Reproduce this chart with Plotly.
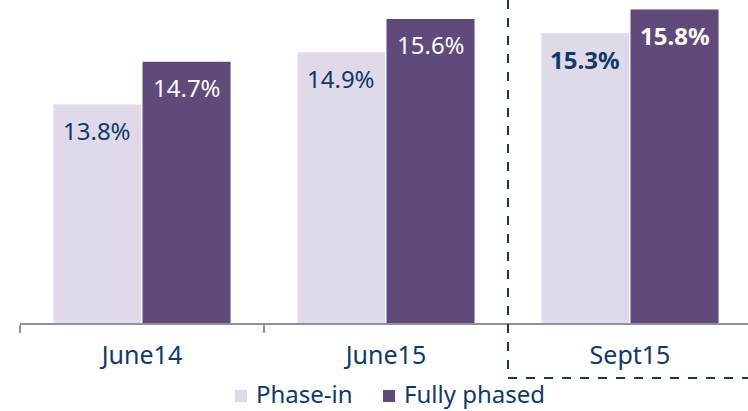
import plotly.graph_objects as go

categories = ["June14", "June15", "Sept15"]
phase_in = [13.8, 14.9, 15.3]
fully_phased = [14.7, 15.6, 15.8]
series_names = ["Phase-in", "Fully phased"]
bold_flags = [False, False, True]

LIGHT = "#dfd9ea"
PURPLE = "#5f4a7b"
NAVY = "#0f3a68"
FONT = "Noto Sans"

fig = go.Figure()
fig.add_trace(go.Bar(name=series_names[0], x=categories, y=phase_in,
                     marker=dict(color=LIGHT, line=dict(color="white", width=1))))
fig.add_trace(go.Bar(name=series_names[1], x=categories, y=fully_phased,
                     marker=dict(color=PURPLE, line=dict(color="white", width=1))))

bargap = 0.27
half = (1 - bargap) / 4  # offset of each bar center from category center
for i, cat in enumerate(categories):
    for val, dx, col in ((phase_in[i], -half, NAVY), (fully_phased[i], half, "white")):
        txt = f"{val:.1f}%"
        if bold_flags[i]:
            txt = f"<b>{txt}</b>"
        fig.add_annotation(x=i + dx, y=val, xref="x", yref="y", text=txt,
                           showarrow=False, yanchor="top", yshift=-8,
                           font=dict(family=FONT, size=24, color=col))

# dashed box around the last category
fig.add_shape(type="path", xref="x", yref="paper",
              path="M 1.5,1 L 1.5,-0.17 L 2.6,-0.17",
              line=dict(color="#16365c", width=2, dash="dash"))

# legend (drawn manually so it sits exactly below the axis)
legend_items = [(series_names[0], LIGHT, 0.2953), (series_names[1], PURPLE, 0.4986)]
sq_w = 12 / 728
for name, col, x0 in legend_items:
    fig.add_shape(type="rect", xref="paper", yref="paper",
                  x0=x0, x1=x0 + sq_w, y0=-0.2446, y1=-0.2074,
                  fillcolor=col, line=dict(width=0))
    fig.add_annotation(xref="paper", yref="paper", x=x0 + sq_w + 8 / 728, y=-0.2724,
                       xanchor="left", yanchor="bottom", text=name, showarrow=False,
                       borderpad=0,
                       font=dict(family=FONT, size=24, color=NAVY))

fig.update_layout(
    width=748, height=411,
    margin=dict(l=20, r=0, t=0, b=88, autoexpand=False),
    paper_bgcolor="white", plot_bgcolor="white",
    barmode="group", bargap=bargap, bargroupgap=0,
    font=dict(family=FONT, color=NAVY, size=24),
    showlegend=False,
)
fig.update_xaxes(range=[-0.5, 2.4836], showline=True, linecolor="#8f90a2", linewidth=2,
                 ticks="outside", tickson="boundaries", ticklen=8, tickwidth=2,
                 tickcolor="#8f90a2", tickfont=dict(family=FONT, size=25, color=NAVY),
                 ticklabelstandoff=9,
                 showgrid=False, zeroline=False, automargin=False)
fig.update_yaxes(range=[9.189, 15.989], visible=False, showgrid=False, zeroline=False,
                 automargin=False)

fig.write_html("out.html", config={"displayModeBar": False},
               post_script="document.body.style.margin='0';document.body.style.overflow='hidden';")
